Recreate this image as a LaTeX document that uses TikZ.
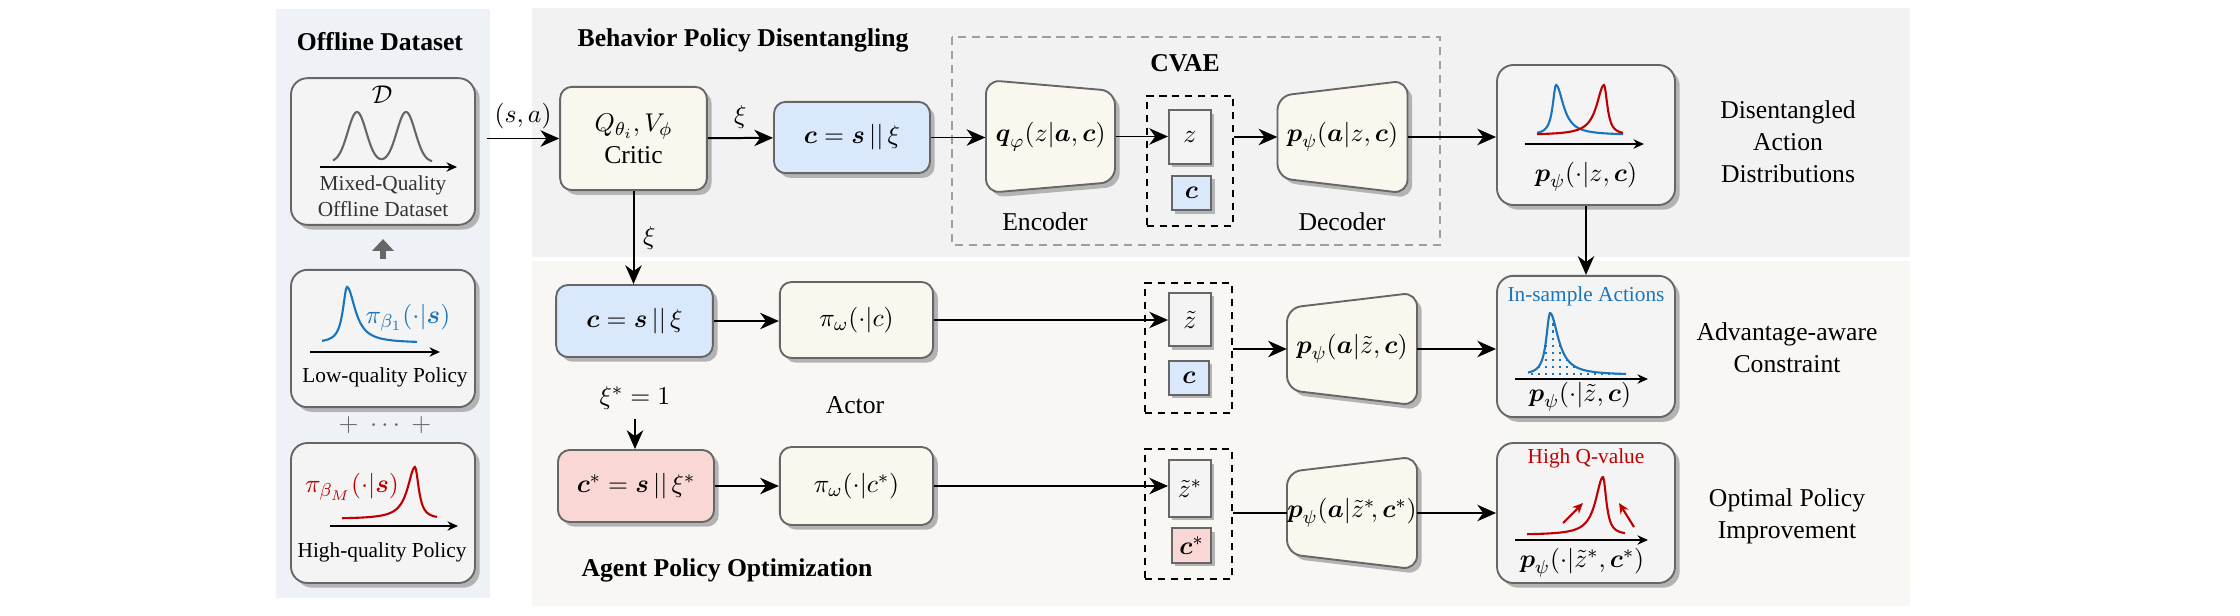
\documentclass[tikz,border=0pt,11pt]{standalone}
\usepackage{amsmath}
\usepackage{fontspec}
\setmainfont{Liberation Serif}
\usetikzlibrary{arrows.meta,shadows}

\definecolor{edgegray}{HTML}{666666}
\definecolor{shadowgray}{HTML}{B3B3B3}
\definecolor{panelleft}{HTML}{EEF1F5}
\definecolor{paneltop}{HTML}{F2F2F2}
\definecolor{panelbot}{HTML}{F8F7F3}
\definecolor{boxgray}{HTML}{F4F4F4}
\definecolor{beige}{HTML}{F9F7EE}
\definecolor{lightblue}{HTML}{DAE8FC}
\definecolor{lightpink}{HTML}{F8D7D5}
\definecolor{curveblue}{HTML}{1B75BC}
\definecolor{curvered}{HTML}{C00000}
\definecolor{darktext}{HTML}{333333}

\newcommand{\bfc}{\boldsymbol{c}}
\newcommand{\bfs}{\boldsymbol{s}}
\newcommand{\bfa}{\boldsymbol{a}}
\newcommand{\bfp}{\boldsymbol{p}}
\newcommand{\bfq}{\boldsymbol{q}}

\tikzset{
  box/.style={draw=edgegray, line width=0.8pt, rounded corners=5pt, align=center, inner sep=2pt,
    drop shadow={shadow xshift=0.07cm, shadow yshift=-0.07cm, fill=shadowgray, opacity=1}},
  greybox/.style={box, fill=boxgray, rounded corners=7pt},
  critbox/.style={box, fill=beige},
  condbox/.style={box, fill=lightblue},
  optbox/.style={box, fill=lightpink},
  smallbox/.style={draw=edgegray, line width=0.8pt, inner sep=0pt,
    drop shadow={shadow xshift=0.05cm, shadow yshift=-0.05cm, fill=shadowgray, opacity=1}},
  latbox/.style={draw=black, line width=0.9pt, dash pattern=on 3pt off 2.5pt,
    minimum width=1.3cm, minimum height=1.95cm},
  cvaeframe/.style={draw=gray!75, line width=0.8pt, dash pattern=on 3.5pt off 2.5pt},
  trap/.style={draw=edgegray, fill=beige, line width=0.8pt, rounded corners=6pt,
    drop shadow={shadow xshift=0.07cm, shadow yshift=-0.07cm, fill=shadowgray, opacity=1}},
  trapnode/.style={minimum width=1.94cm, minimum height=1.7cm, inner sep=0pt},
  encshape/.pic={\path[trap] (-64.5,-56.5) -- (64.5,-45.5) -- (64.5,45.5) -- (-64.5,56.5) -- cycle;},
  decshape/.pic={\path[trap] (-65,-41) -- (65,-56.5) -- (65,56.5) -- (-65,41) -- cycle;},
  title/.style={font=\bfseries},
  smalltext/.style={font=\fontsize{9.1}{11}\selectfont, align=center},
  conn/.style={-{Stealth[length=8pt,width=7pt,inset=2.5pt]}, line width=0.85pt},
  line/.style={line width=0.85pt},
  axis/.style={-{Stealth[length=4.5pt,width=4pt]}, line width=0.75pt},
  distcurve/.style={line width=0.9pt},
  dotcol/.style={curveblue, line width=1pt, dash pattern=on 1pt off 2pt},
  redarrow/.style={curvered, line width=0.9pt, -{Stealth[length=4.5pt,width=4pt]}},
  fatarrow/.style={edgegray, line width=2.6pt, -{Triangle[length=5pt,width=9pt]}}
}

\begin{document}
\begin{tikzpicture}[x=0.015cm, y=-0.015cm,
  declare function={lor(\xx,\pk,\wa,\wb)=1/(1+((\xx-\pk)/((\xx<\pk)?\wa:\wb))^2);}]
\useasboundingbox (0,0) rectangle (2240,616);
\fill[panelleft] (276,9) rectangle (490,598);
\fill[paneltop] (532,8) rectangle (1910,257);
\fill[panelbot] (532,261) rectangle (1910,606);
\draw[cvaeframe] (952,37) rectangle (1440,245);

\node[title] (offline) at (380,42) {Offline Dataset};
\node[title] (bpd) at (743,40) {Behavior Policy Disentangling};
\node[title] (cvae) at (1185,63) {CVAE};
\node[title] (apo) at (727,570) {Agent Policy Optimization};

\node[greybox, minimum width=2.76cm, minimum height=2.2cm] (data) at (383,151.5) {};
\node[greybox, minimum width=2.76cm, minimum height=2.06cm] (lowq) at (383,338.5) {};
\node[greybox, minimum width=2.76cm, minimum height=2.1cm] (highq) at (383,513) {};

\node (dset) at (382,95) {$\mathcal{D}$};
\draw[distcurve, edgegray] plot[domain=333:432, samples=100] (\x,{162-50*(exp(-((\x-357)/13)^2)+exp(-((\x-406)/13)^2))});
\draw[axis] (320,167) -- (457,167);
\node[smalltext, text=darktext] (mixed) at (383,196) {Mixed-Quality\\Offline Dataset};

\draw[distcurve, curveblue] plot[domain=322:417, samples=100] (\x,{343-56*lor(\x,347,5,10)});
\node[text=curveblue] (pilow) at (408,318) {$\pi_{\beta_1}(\cdot|\bfs)$};
\draw[axis] (310,352) -- (440,352);
\node[smalltext] (lowlab) at (385,377) {Low-quality Policy};

\node[text=edgegray] (plus) at (385,425) {${+}\;\cdots\;{+}$};

\draw[distcurve, curvered] plot[domain=342:437, samples=100] (\x,{519-52*lor(\x,415,9,4.5)});
\node[text=curvered] (pihigh) at (352,487) {$\pi_{\beta_M}(\cdot|\bfs)$};
\draw[axis] (330,526) -- (458,526);
\node[smalltext] (highlab) at (382,552) {High-quality Policy};

\draw[fatarrow] ([yshift=0.15cm]lowq.north) -- ([yshift=-0.2cm]data.south);

\node[critbox, minimum width=2.2cm, minimum height=1.55cm] (critic) at (633.5,138.5) {$Q_{\theta_i},V_\phi$\\Critic};
\node[condbox, minimum width=2.34cm, minimum height=1.07cm] (cond) at (852,137.5) {$\bfc=\bfs\,||\,\xi$};

\pic at (1050.5,136.5) {encshape};
\node[trapnode] (enc) at (1050.5,136.5) {$\bfq_\varphi(z|\bfa,\bfc)$};
\node (enclab) at (1045,222) {Encoder};
\node[latbox] (lat1) at (1190,161) {};
\node[smallbox, fill=boxgray, minimum width=0.63cm, minimum height=0.8cm] (z1) at (1190,137) {$z$};
\node[smallbox, fill=lightblue, minimum width=0.59cm, minimum height=0.52cm] (c1) at (1191.5,193) {$\bfc$};
\pic at (1342.5,137) {decshape};
\node[trapnode] (dec1) at (1342.5,137) {$\bfp_\psi(\bfa|z,\bfc)$};
\node (declab) at (1342,222) {Decoder};

\node[greybox, minimum width=2.67cm, minimum height=2.1cm] (dist1) at (1586,135) {};
\draw[distcurve, curveblue] plot[domain=1537:1623, samples=100] (\x,{135-50*lor(\x,1556,4,9)});
\draw[distcurve, curvered] plot[domain=1537:1623, samples=100] (\x,{135-50*lor(\x,1604,9,4)});
\draw[axis] (1525,144) -- (1644,144);
\node (dist1lab) at (1586,177) {$\bfp_\psi(\cdot|z,\bfc)$};
\node[align=center] (disent) at (1788,142) {Disentangled\\Action\\Distributions};

\node[condbox, minimum width=2.35cm, minimum height=1.08cm] (cond2) at (634.5,321) {$\bfc=\bfs\,||\,\xi$};
\node[critbox, minimum width=2.3cm, minimum height=1.14cm] (actor1) at (856.5,320) {$\pi_\omega(\cdot|c)$};
\node (actorlab) at (855,405) {Actor};
\node (xistar) at (635,398) {$\xi^*=1$};
\node[optbox, minimum width=2.34cm, minimum height=1.08cm] (condstar) at (636,486) {$\bfc^*=\bfs\,||\,\xi^*$};
\node[critbox, minimum width=2.3cm, minimum height=1.17cm] (actor2) at (856.5,486) {$\pi_\omega(\cdot|c^*)$};

\node[latbox] (lat2) at (1188.5,348) {};
\node[smallbox, fill=boxgray, minimum width=0.63cm, minimum height=0.8cm] (ztil) at (1190,319.5) {$\tilde{z}$};
\node[smallbox, fill=lightblue, minimum width=0.6cm, minimum height=0.51cm] (c2) at (1189,378) {$\bfc$};
\pic at (1352,349) {decshape};
\node[trapnode] (dec2) at (1352,349) {$\bfp_\psi(\bfa|\tilde{z},\bfc)$};

\node[greybox, minimum width=2.67cm, minimum height=2.12cm] (dist2) at (1586,346.5) {};
\node[smalltext, text=curveblue] (insample) at (1586,296) {In-sample Actions};
\foreach \xd in {1532,1539,...,1623}
  \draw[dotcol] (\xd,375) -- (\xd,{375-62*lor(\xd,1550,4.5,10)});
\draw[distcurve, curveblue] plot[domain=1528:1626, samples=100] (\x,{375-62*lor(\x,1550,4.5,10)});
\draw[axis] (1515,379) -- (1648,379);
\node (dist2lab) at (1580,397) {$\bfp_\psi(\cdot|\tilde{z},\bfc)$};
\node[align=center] (advaware) at (1787,348) {Advantage-aware\\Constraint};

\node[latbox] (lat3) at (1188.5,514) {};
\node[smallbox, fill=boxgray, minimum width=0.63cm, minimum height=0.85cm] (zstar) at (1190,488.5) {$\tilde{z}^*$};
\node[smallbox, fill=lightpink, minimum width=0.59cm, minimum height=0.52cm] (c3) at (1191.5,545.5) {$\bfc^*$};
\pic at (1352,513) {decshape};
\node[trapnode] (dec3) at (1352,513) {$\bfp_\psi(\bfa|\tilde{z}^*\!,\bfc^*)$};

\node[greybox, minimum width=2.67cm, minimum height=2.1cm] (dist3) at (1586,513) {};
\node[smalltext, text=curvered] (highq) at (1586,458) {High Q-value};
\draw[distcurve, curvered] plot[domain=1527:1625, samples=100] (\x,{535-58*lor(\x,1603,9,4)});
\draw[redarrow] (1563,523) -- (1583,503);
\draw[redarrow] (1634,527) -- (1619,503);
\draw[axis] (1515,540) -- (1648,540);
\node (dist3lab) at (1582,563) {$\bfp_\psi(\cdot|\tilde{z}^*,\bfc^*)$};
\node[align=center] (optimal) at (1787,516) {Optimal Policy\\Improvement};

\draw[conn] (data.east |- critic.west) ++(11,0) -- node[above] {$(s,a)$} (critic.west);
\draw[conn] (critic) -- node[above] {$\xi$} (cond);
\draw[conn] (critic.south) -- node[right] {$\xi$} (critic.south |- cond2.north);
\draw[conn] (cond.east) -- (cond.east -| enc.west);
\draw[conn] (enc.east) -- (enc.east -| z1.west);
\draw[conn] (lat1.east |- dec1.west) -- (dec1.west);
\draw[conn] (dec1.east) -- (dec1.east -| dist1.west);
\draw[conn] (dist1.south) -- (dist2.north);
\draw[conn] (cond2.east) -- (cond2.east -| actor1.west);
\draw[conn] (actor1.east) -- (actor1.east -| ztil.west);
\draw[conn] (lat2.east |- dec2.west) -- (dec2.west);
\draw[conn] (dec2.east) -- (dec2.east -| dist2.west);
\draw[conn] (xistar.south) -- (xistar.south |- condstar.north);
\draw[conn] (condstar.east) -- (condstar.east -| actor2.west);
\draw[conn] (actor2.east) -- (actor2.east -| zstar.west);
\draw[line] (lat3.east |- dec3.west) -- (dec3.west);
\draw[conn] (dec3.east) -- (dec3.east -| dist3.west);
\end{tikzpicture}
\end{document}
